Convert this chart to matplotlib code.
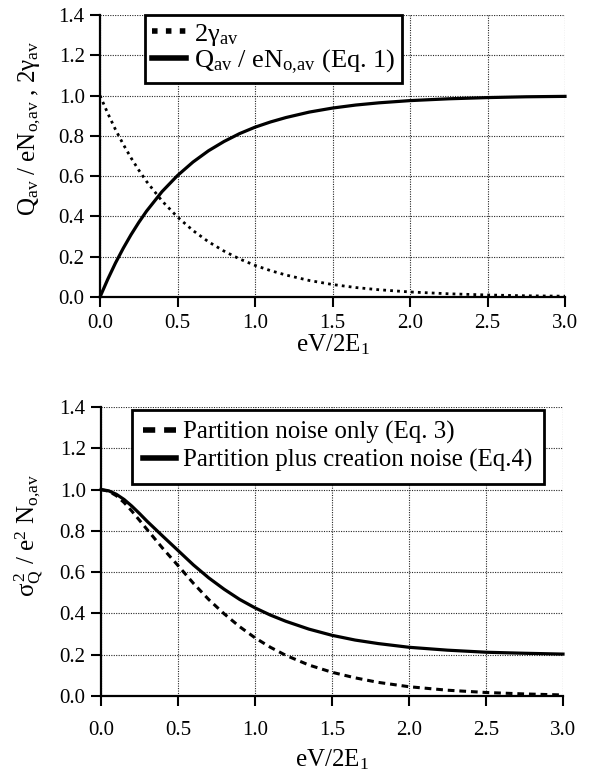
import matplotlib
matplotlib.use("Agg")
import matplotlib.pyplot as plt

plt.rcParams['font.family'] = ['Liberation Serif', 'DejaVu Serif']
plt.rcParams['mathtext.fontset'] = 'custom'
plt.rcParams['mathtext.rm'] = 'Liberation Serif'
plt.rcParams['mathtext.it'] = 'Liberation Serif:italic'
plt.rcParams['mathtext.bf'] = 'Liberation Serif:bold'

# ---- data ----
x = [0, 0.05, 0.1, 0.15, 0.2, 0.25, 0.3, 0.4, 0.5, 0.6, 0.7, 0.8, 0.9, 1.0,
     1.1, 1.2, 1.35, 1.5, 1.65, 1.8, 2.0, 2.25, 2.5, 2.75, 3.0]

gamma2 = [1.0, 0.912, 0.831, 0.758, 0.691, 0.630, 0.574, 0.477, 0.397, 0.330,
          0.274, 0.228, 0.189, 0.157, 0.131, 0.109, 0.082, 0.062, 0.047, 0.036,
          0.025, 0.016, 0.010, 0.006, 0.004]
q_norm = [0.0, 0.088, 0.169, 0.242, 0.309, 0.370, 0.426, 0.523, 0.603, 0.670,
          0.726, 0.772, 0.811, 0.843, 0.869, 0.891, 0.918, 0.938, 0.953, 0.964,
          0.975, 0.984, 0.990, 0.994, 0.996]

partition = [1.0, 0.992, 0.970, 0.937, 0.896, 0.851, 0.806, 0.716, 0.632, 0.546,
             0.467, 0.398, 0.336, 0.282, 0.236, 0.197, 0.150, 0.115, 0.088, 0.066,
             0.045, 0.028, 0.017, 0.010, 0.005]
partition_creation = [1.0, 0.994, 0.977, 0.952, 0.920, 0.884, 0.846, 0.775, 0.705,
                      0.635, 0.572, 0.517, 0.468, 0.427, 0.392, 0.362, 0.324, 0.294,
                      0.271, 0.254, 0.236, 0.222, 0.212, 0.207, 0.203]

xticks = [0.0, 0.5, 1.0, 1.5, 2.0, 2.5, 3.0]
yticks = [0.0, 0.2, 0.4, 0.6, 0.8, 1.0, 1.2, 1.4]

W, H = 589, 774
fig = plt.figure(figsize=(W / 100, H / 100), dpi=100)

ax1 = fig.add_axes([100 / W, 1 - 297 / H, 465 / W, 282 / H])
ax2 = fig.add_axes([101 / W, 1 - 696 / H, 462 / W, 289 / H])


def style(ax, xpad, labelpad):
    ax.set_xlim(0, 3.0)
    ax.set_ylim(0, 1.4)
    ax.set_xticks(xticks)
    ax.set_yticks(yticks)
    ax.set_xticklabels([f"{v:.1f}" for v in xticks])
    ax.set_yticklabels([f"{v:.1f}" for v in yticks])
    ax.grid(True, color='0.15', linestyle=(0, (1, 1.2)), linewidth=0.8)
    ax.set_axisbelow(True)
    for s in ('top', 'right'):
        ax.spines[s].set_visible(False)
    for s in ('left', 'bottom'):
        ax.spines[s].set_linewidth(1.6)
    ax.tick_params(axis='x', direction='out', length=7, width=1.5, labelsize=15, pad=xpad)
    ax.tick_params(axis='y', direction='out', length=7, width=1.5, labelsize=15, pad=4)
    ax.set_xlabel(r'eV/2E$_\mathrm{1}$', fontsize=18, labelpad=labelpad)


style(ax1, 5, 0)
style(ax2, 11, 5)

ax1.plot(x, gamma2, color='black', lw=2.0, linestyle=(0, (1, 1.5)),
         label=r'2$\mathrm{\gamma_{av}}$', clip_on=False)
ax1.plot(x, q_norm, color='black', lw=2.3, linestyle='-',
         label=r'$\mathrm{Q_{av}}$ / e$\mathrm{N_{o{,}av}}$ (Eq. 1)', clip_on=False)
ax1.set_ylabel(r'$\mathrm{Q_{av}}$ / e$\mathrm{N_{o{,}av}}$ , 2$\mathrm{\gamma_{av}}$',
               fontsize=18)
ax1.yaxis.set_label_coords(-0.122, 0.60)

ax2.plot(x, partition, color='black', lw=2.2, linestyle=(0, (2.2, 1.6)),
         label='Partition noise only (Eq. 3)', clip_on=False)
ax2.plot(x, partition_creation, color='black', lw=2.3, linestyle='-',
         label='Partition plus creation noise (Eq.4)', clip_on=False)
ax2.set_ylabel(r'$\mathrm{\sigma_Q^{\,2}}$ / $\mathrm{e^2}$ $\mathrm{N_{o{,}av}}$',
               fontsize=18)
ax2.yaxis.set_label_coords(-0.118, 0.556)


def legend(ax, anchor, fs, spacing, bpad):
    leg = ax.legend(loc='upper left', bbox_to_anchor=anchor, borderaxespad=0,
                    fontsize=fs, frameon=True, fancybox=False, framealpha=1,
                    handlelength=1.3, handletextpad=0.3, labelspacing=spacing,
                    borderpad=bpad, edgecolor='black')
    leg.get_frame().set_linewidth(2.0)
    for line in leg.get_lines():
        line.set_linewidth(4)
    return leg


legend(ax1, (0.097, 1.0), 19, 0.0, 0.25)
legend(ax2, (0.067, 0.99), 18, 0.2, 0.45)

fig.savefig('out.png', dpi=100)
